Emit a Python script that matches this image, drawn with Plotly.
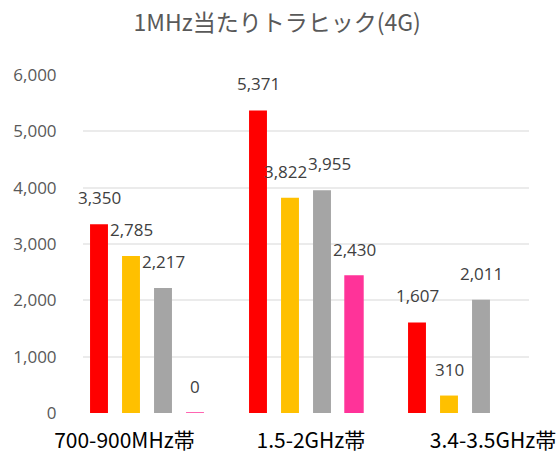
import plotly.graph_objects as go

categories = ["700-900MHz帯", "1.5-2GHz帯", "3.4-3.5GHz帯"]
series_names = ["系列1", "系列2", "系列3", "系列4"]
s1 = [3350, 5371, 1607]
s2 = [2785, 3822, 310]
s3 = [2217, 3955, 2011]
s4 = [0, 2430, None]
colors = ["#FF0000", "#FFC000", "#A5A5A5", "#FF3399"]
y_ticks = [0, 1000, 2000, 3000, 4000, 5000, 6000]
label_pos = [-0.142, 1.031, 2.176]  # tick label placement (style)
label_xshift = {(1, 1): -5, (2, 1): 7}  # (series, category) nudges to avoid overlap

series = [s1, s2, s3, s4]
x = list(range(len(categories)))

bargap = 0.195
bargroupgap = 0.44
pitch = (1 - bargap) / len(series)

fig = go.Figure()
for i, (name, vals, col) in enumerate(zip(series_names, series, colors)):
    fig.add_trace(go.Bar(
        x=x, y=vals, name=name, marker_color=col,
        marker_line_width=1.5 if i == 3 else 0, marker_line_color=col,
        hoverinfo="y"))
    for xi, v in zip(x, vals):
        if v is None:
            continue
        xc = xi + (i - (len(series) - 1) / 2) * pitch
        fig.add_annotation(x=xc, y=v, text=f"{v:,}", showarrow=False,
                           yanchor="bottom", yshift=13,
                           xshift=label_xshift.get((i, xi), 0),
                           font=dict(family="Open Sans", size=17, color="#404040"))

fig.update_layout(
    width=560, height=454,
    margin=dict(l=83, r=31, t=75, b=41),
    paper_bgcolor="white", plot_bgcolor="white",
    barmode="group", bargap=bargap, bargroupgap=bargroupgap,
    showlegend=False,
    title=dict(text="1MHz当たりトラヒック(4G)", x=0.495, xanchor="center",
               y=1 - 23 / 454, yanchor="middle",
               font=dict(family="Noto Sans CJK JP", size=23, color="#595959")),
    xaxis=dict(range=[-0.4025, 2.4025], tickvals=label_pos, ticktext=categories,
               showgrid=False, zeroline=False, showline=False, automargin=False,
               ticks="outside", ticklen=9, tickcolor="rgba(0,0,0,0)",
               tickfont=dict(family="Noto Sans CJK JP", size=21, color="#000000")),
    yaxis=dict(range=[0, 6000], tickvals=y_ticks,
               ticktext=[f"{t:,}" for t in y_ticks],
               showgrid=True, gridcolor="#EBEBEB", gridwidth=1.5,
               zeroline=False, showline=False, automargin=False,
               ticks="outside", ticklen=22, tickcolor="rgba(0,0,0,0)",
               tickfont=dict(family="Open Sans", size=17, color="#595959")),
)

fig.write_html("out.html")
